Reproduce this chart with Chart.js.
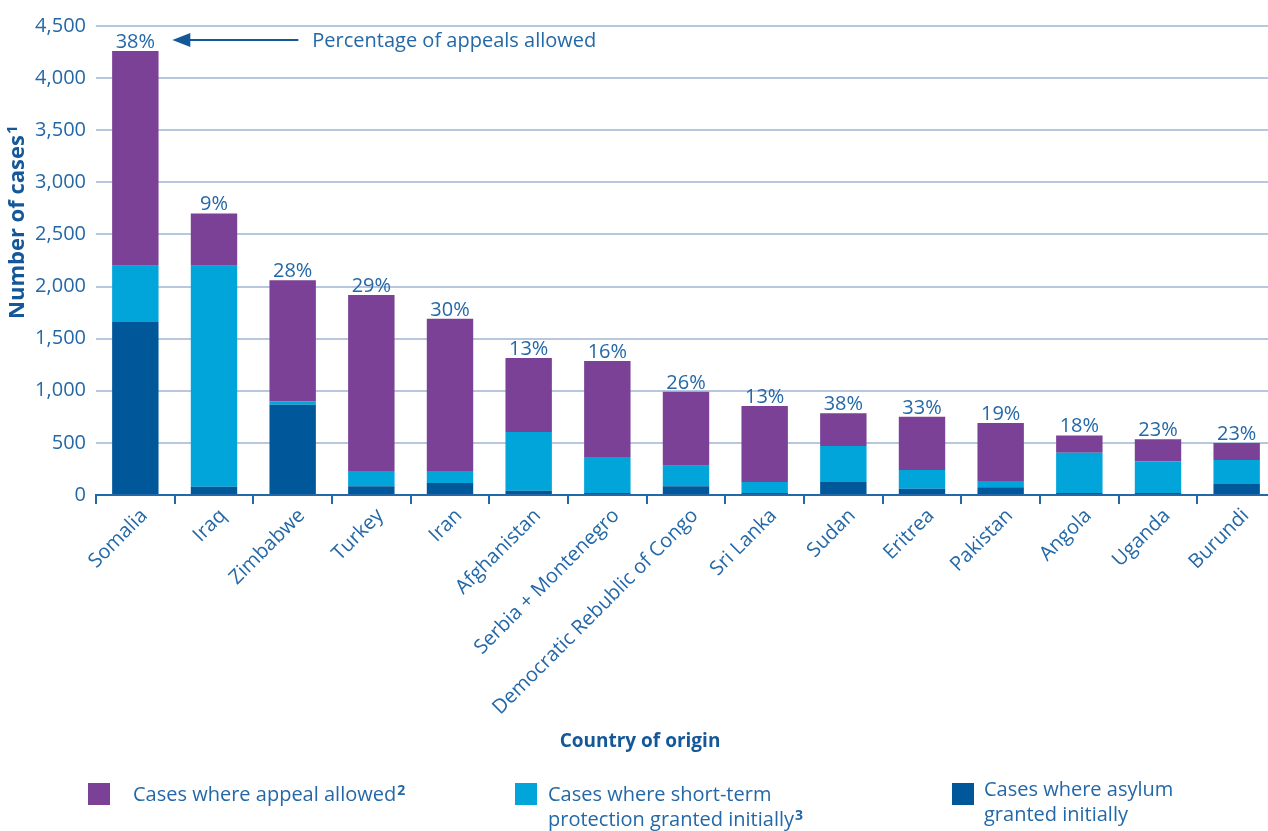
<!DOCTYPE html>
<html>
<head>
<meta charset="utf-8">
<title>Appeals by country of origin</title>
<script src="https://cdn.jsdelivr.net/npm/chart.js@4.4.1/dist/chart.umd.min.js"></script>
<style>
  html, body { margin: 0; padding: 0; background: #fff; overflow: hidden; }
</style>
</head>
<body>
<canvas id="appealsChart" width="1276" height="831"></canvas>
<script>
var countries = ['Somalia', 'Iraq', 'Zimbabwe', 'Turkey', 'Iran', 'Afghanistan', 'Serbia + Montenegro',
    'Democratic Rebublic of Congo', 'Sri Lanka', 'Sudan', 'Eritrea', 'Pakistan', 'Angola', 'Uganda', 'Burundi'];
var asylumInitially = [1660, 80, 865, 85, 115, 40, 20, 85, 20, 125, 60, 75, 20, 20, 105];
var shortTermInitially = [540, 2120, 35, 145, 115, 565, 345, 195, 105, 345, 180, 60, 385, 305, 230];
var appealAllowed = [2060, 500, 1160, 1690, 1460, 710, 920, 710, 730, 315, 510, 555, 165, 210, 165];
var percentAllowed = [38, 9, 28, 29, 30, 13, 16, 26, 13, 38, 33, 19, 18, 23, 23];
var yMax = 4500;
var yStep = 500;

var textBlue = '#2468a8';
var titleBlue = '#15589a';
var font = '"Open Sans", Lato, sans-serif';

var legendItems = [
    { color: '#7b4196', lines: ['Cases where appeal allowed'], sup: '2', box: [88, 783], text: [133, 795] },
    { color: '#02a5d9', lines: ['Cases where short-term', 'protection granted initially'], sup: '3', box: [515, 783], text: [548, 795] },
    { color: '#00589a', lines: ['Cases where asylum', 'granted initially'], sup: '', box: [952, 783], text: [984, 790] }
];

// text followed by a small bold raised footnote number
function textWithSup(ctx, str, sup, x, y, size) {
    ctx.fillText(str, x, y);
    if (!sup) return;
    var w = ctx.measureText(str).width;
    var keep = ctx.font;
    ctx.font = 'bold ' + Math.round(size * 0.68) + 'px ' + font;
    ctx.fillText(sup, x + w + 1, y - size * 0.22);
    ctx.font = keep;
}

// percentages over each stack, the pointer note, axis titles and the legend
var extrasPlugin = {
    id: 'extras',
    afterDatasetsDraw: function (chart) {
        var ctx = chart.ctx;
        var top = chart.getDatasetMeta(2).data;
        ctx.save();
        ctx.font = '20px ' + font;
        ctx.fillStyle = textBlue;
        ctx.textAlign = 'center';
        ctx.textBaseline = 'bottom';
        top.forEach(function (bar, i) {
            ctx.fillText(percentAllowed[i] + '%', bar.x, bar.y + 1);
        });

        // arrow pointing back at the first percentage
        var first = top[0];
        var ay = first.y - 11;
        var tip = first.x + 37;
        var tail = first.x + 163;
        ctx.strokeStyle = titleBlue;
        ctx.fillStyle = titleBlue;
        ctx.lineWidth = 2;
        ctx.beginPath();
        ctx.moveTo(tail, ay);
        ctx.lineTo(tip + 12, ay);
        ctx.stroke();
        ctx.beginPath();
        ctx.moveTo(tip, ay);
        ctx.lineTo(tip + 18, ay - 7);
        ctx.lineTo(tip + 18, ay + 7);
        ctx.closePath();
        ctx.fill();
        ctx.fillStyle = textBlue;
        ctx.textAlign = 'left';
        ctx.textBaseline = 'middle';
        ctx.fillText('Percentage of appeals allowed', tail + 14, ay + 1);
        ctx.restore();
    },
    afterDraw: function (chart) {
        var ctx = chart.ctx;
        ctx.save();

        // axis titles
        ctx.fillStyle = titleBlue;
        ctx.textBaseline = 'middle';
        ctx.textAlign = 'center';
        ctx.font = 'bold 19px ' + font;
        ctx.fillText('Country of origin', 640, 742);

        ctx.save();
        ctx.translate(18, 222);
        ctx.rotate(-Math.PI / 2);
        ctx.font = 'bold 22px ' + font;
        ctx.textAlign = 'left';
        var yTitle = 'Number of cases';
        var tw = ctx.measureText(yTitle).width + 10;
        textWithSup(ctx, yTitle, '1', -tw / 2, 0, 22);
        ctx.restore();

        // legend
        ctx.font = '20px ' + font;
        ctx.textAlign = 'left';
        legendItems.forEach(function (item) {
            ctx.fillStyle = item.color;
            ctx.fillRect(item.box[0], item.box[1], 22, 22);
            ctx.fillStyle = textBlue;
            item.lines.forEach(function (line, j) {
                var last = j === item.lines.length - 1;
                textWithSup(ctx, line, last ? item.sup : '', item.text[0], item.text[1] + j * 25, 20);
            });
        });
        ctx.restore();
    }
};

var ctx = document.getElementById('appealsChart').getContext('2d');
var appealsChart = new Chart(ctx, {
    type: 'bar',
    data: {
        labels: countries,
        datasets: [{
            label: 'Cases where asylum granted initially',
            data: asylumInitially,
            backgroundColor: '#00589a'
        }, {
            label: 'Cases where short-term protection granted initially',
            data: shortTermInitially,
            backgroundColor: '#02a5d9'
        }, {
            label: 'Cases where appeal allowed',
            data: appealAllowed,
            backgroundColor: '#7b4196'
        }]
    },
    options: {
        responsive: false,
        animation: false,
        barPercentage: 0.59,
        categoryPercentage: 1,
        layout: {
            padding: { top: 26, right: 0, bottom: 74, left: 0 }
        },
        plugins: {
            legend: { display: false },
            tooltip: { enabled: false }
        },
        scales: {
            x: {
                stacked: true,
                afterFit: function (scale) { scale.height = 262; },
                border: { color: textBlue, width: 2 },
                grid: {
                    offset: true,
                    drawOnChartArea: false,
                    drawTicks: true,
                    tickLength: 9,
                    color: textBlue,
                    lineWidth: 2
                },
                ticks: {
                    minRotation: 45,
                    maxRotation: 45,
                    autoSkip: false,
                    padding: 0,
                    labelOffset: 9,
                    color: textBlue,
                    font: { family: font, size: 20 }
                }
            },
            y: {
                stacked: true,
                min: 0,
                max: yMax,
                afterFit: function (scale) { scale.width = 96; },
                border: { display: false },
                grid: {
                    color: '#b8c7dd',
                    lineWidth: 2,
                    drawTicks: false
                },
                ticks: {
                    stepSize: yStep,
                    padding: 10,
                    color: textBlue,
                    font: { family: font, size: 20 },
                    callback: function (v) { return v.toLocaleString('en-US'); }
                }
            }
        }
    },
    plugins: [extrasPlugin]
});
</script>
</body>
</html>
